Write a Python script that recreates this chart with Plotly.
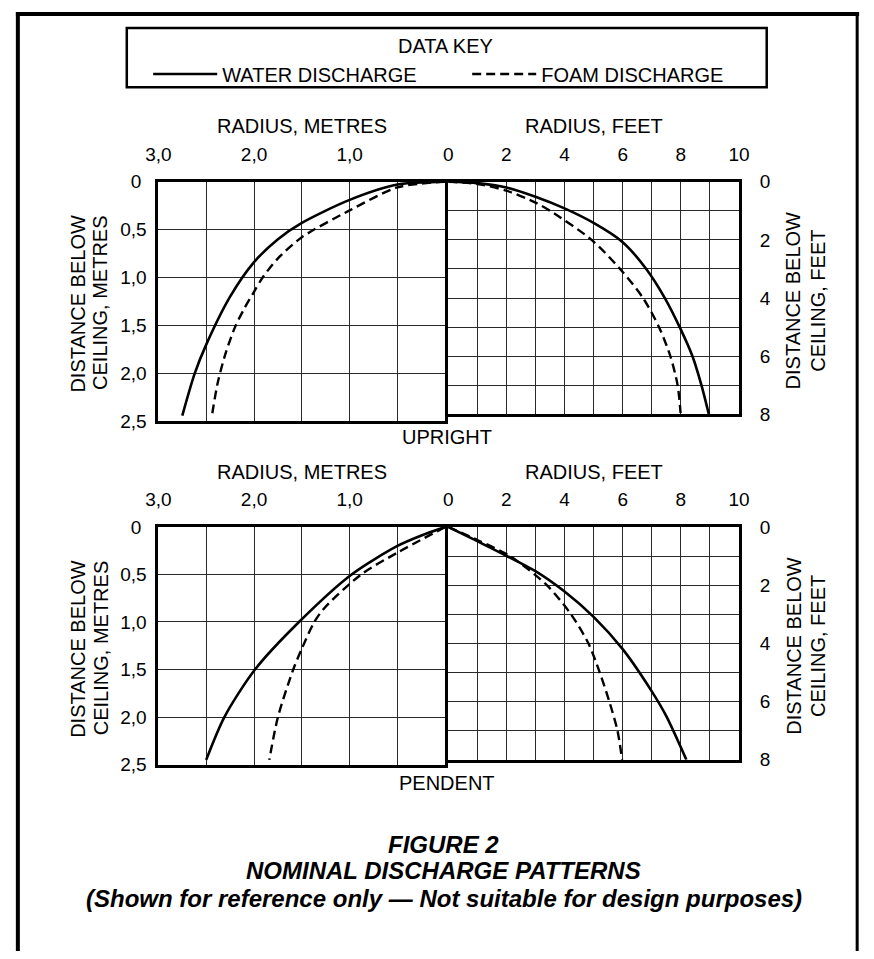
import plotly.graph_objects as go

W, H = 874, 959


def px(x):
    return x / W


def py(y):
    return 1 - y / H


FONT = "Liberation Sans, Arial, Helvetica, sans-serif"

# ---------------- data ----------------
# UPRIGHT, metric panel: radius (m) vs distance below ceiling (m)
up_m_water_r = [0, 0.50, 1.00, 1.50, 1.75, 2.00, 2.25, 2.50, 2.62, 2.75]
up_m_water_d = [0, 0.03, 0.19, 0.43, 0.60, 0.84, 1.20, 1.70, 2.00, 2.44]
up_m_foam_r = [0, 0.50, 1.00, 1.50, 1.75, 1.91, 2.00, 2.10, 2.20, 2.30, 2.38, 2.44]
up_m_foam_d = [0, 0.06, 0.30, 0.58, 0.80, 1.00, 1.15, 1.32, 1.52, 1.80, 2.10, 2.44]

# UPRIGHT, imperial panel: radius (ft) vs distance below ceiling (ft)
up_f_water_r = [0, 1.0, 2.0, 3.0, 4.0, 5.0, 6.0, 6.81, 7.45, 7.96, 8.40, 8.71, 8.96]
up_f_water_d = [0, 0.05, 0.20, 0.52, 0.92, 1.42, 2.08, 3.00, 4.00, 5.00, 6.00, 7.00, 7.98]
up_f_foam_r = [0, 1.0, 2.0, 3.0, 3.50, 4.93, 5.91, 6.70, 7.25, 7.64, 7.89, 7.99]
up_f_foam_d = [0, 0.08, 0.31, 0.72, 1.00, 2.00, 3.00, 4.00, 5.00, 6.00, 7.00, 7.95]

# PENDENT, metric panel
pe_m_water_r = [0, 0.25, 0.50, 0.98, 1.53, 1.99, 2.31, 2.50]
pe_m_water_d = [0, 0.09, 0.20, 0.50, 1.00, 1.50, 2.00, 2.45]
pe_m_foam_r = [0, 0.50, 0.88, 1.27, 1.37, 1.50, 1.59, 1.75, 1.84]
pe_m_foam_d = [0, 0.27, 0.50, 0.86, 1.00, 1.28, 1.50, 2.00, 2.45]

# PENDENT, imperial panel
pe_f_water_r = [0, 1.0, 2.0, 3.0, 4.0, 5.0, 6.0, 7.0, 7.5, 8.19]
pe_f_water_d = [0, 0.49, 0.99, 1.52, 2.22, 3.09, 4.20, 5.65, 6.50, 8.00]
pe_f_foam_r = [0, 1.0, 2.12, 3.39, 4.22, 4.82, 5.21, 5.54, 5.82, 5.98]
pe_f_foam_d = [0, 0.45, 1.00, 2.00, 3.00, 4.00, 5.00, 6.00, 7.00, 8.00]

# axis ticks
m_x_vals = [3.0, 2.5, 2.0, 1.5, 1.0, 0.5, 0.0]
m_x_text = ["3,0", "", "2,0", "", "1,0", "", ""]
m_y_vals = [0, 0.5, 1.0, 1.5, 2.0, 2.5]
m_y_text = ["0\u00a0", "0,5", "1,0", "1,5", "2,0", "2,5"]
f_x_vals = list(range(0, 11))
f_x_text = ["0", "", "2", "", "4", "", "6", "", "8", "", "10"]
f_y_vals = list(range(0, 9))
f_y_text = ["0", "", "2", "", "4", "", "6", "", "8"]

SERIES_NAMES = ["WATER DISCHARGE", "FOAM DISCHARGE"]

fig = go.Figure()

panels = [
    ("x", "y", up_m_water_r, up_m_water_d, up_m_foam_r, up_m_foam_d, True),
    ("x2", "y2", up_f_water_r, up_f_water_d, up_f_foam_r, up_f_foam_d, False),
    ("x3", "y3", pe_m_water_r, pe_m_water_d, pe_m_foam_r, pe_m_foam_d, False),
    ("x4", "y4", pe_f_water_r, pe_f_water_d, pe_f_foam_r, pe_f_foam_d, False),
]
for xa, ya, wr, wd, fr, fd, show in panels:
    fig.add_trace(go.Scatter(
        x=wr, y=wd, xaxis=xa, yaxis=ya, mode="lines", name=SERIES_NAMES[0],
        line=dict(color="black", width=2.6, shape="spline", smoothing=0.8),
        showlegend=show, hoverinfo="skip"))
    fig.add_trace(go.Scatter(
        x=fr, y=fd, xaxis=xa, yaxis=ya, mode="lines", name=SERIES_NAMES[1],
        line=dict(color="black", width=2.4, dash="9px,5px", shape="spline", smoothing=0.8),
        showlegend=show, hoverinfo="skip"))

GRID = "#2a2a2a"
common = dict(showline=True, linecolor="black", linewidth=3, mirror=True,
              showgrid=True, gridcolor=GRID, gridwidth=1, zeroline=False,
              ticks="", tickfont=dict(size=19, color="black", family=FONT),
              fixedrange=True)

# pixel geometry of the four frames (inner edges)
L0, L1 = 149.5, 444.5      # metric panels
R0, R1 = 447.5, 746.5      # imperial panels
UT, UBm, UBf = 175.5, 420.5, 413.5
PT, PBm, PBf = 528.5, 771.5, 766.5

fig.update_layout(
    xaxis=dict(domain=[px(L0), px(L1)], range=[3.0, 0], side="top", anchor="y",
               tickvals=m_x_vals, ticktext=m_x_text, ticklabelstandoff=10, **common),
    yaxis=dict(domain=[py(UBm), py(UT)], range=[2.5, 0], side="left", anchor="x",
               tickvals=m_y_vals, ticktext=m_y_text, ticklabelstandoff=5, **common),
    xaxis2=dict(domain=[px(R0), px(R1)], range=[0, 10], side="top", anchor="y2",
                tickvals=f_x_vals, ticktext=f_x_text, ticklabelstandoff=10, **common),
    yaxis2=dict(domain=[py(UBf), py(UT)], range=[8, 0], side="right", anchor="x2",
                tickvals=f_y_vals, ticktext=f_y_text, ticklabelstandoff=14, **common),
    xaxis3=dict(domain=[px(L0), px(L1)], range=[3.0, 0], side="top", anchor="y3",
                tickvals=m_x_vals, ticktext=m_x_text, ticklabelstandoff=10, **common),
    yaxis3=dict(domain=[py(PBm), py(PT)], range=[2.5, 0], side="left", anchor="x3",
                tickvals=m_y_vals, ticktext=m_y_text, ticklabelstandoff=5, **common),
    xaxis4=dict(domain=[px(R0), px(R1)], range=[0, 10], side="top", anchor="y4",
                tickvals=f_x_vals, ticktext=f_x_text, ticklabelstandoff=10, **common),
    yaxis4=dict(domain=[py(PBf), py(PT)], range=[8, 0], side="right", anchor="x4",
                tickvals=f_y_vals, ticktext=f_y_text, ticklabelstandoff=14, **common),
)

annotations = []


def label(text, x, y, size=20, angle=0, bold_italic=False):
    t = f"<b><i>{text}</i></b>" if bold_italic else text
    annotations.append(dict(
        text=t, x=px(x), y=py(y), xref="paper", yref="paper",
        xanchor="center", yanchor="middle", showarrow=False, textangle=angle,
        font=dict(size=size, color="black", family=FONT)))


# data key heading
label("DATA KEY", 445, 36.5)

# axis titles
for yoff, sub in ((0, "UPRIGHT"), (353, "PENDENT")):
    label("RADIUS, METRES", 297, 119 + yoff)
    label("RADIUS, FEET", 597, 119 + yoff)
    label("DISTANCE BELOW", 67, 300 + yoff, angle=-90)
    label("CEILING, METRES", 90, 300 + yoff, angle=-90)
    label("DISTANCE BELOW", 803, 297 + yoff, angle=-90)
    label("CEILING, FEET", 828, 297 + yoff, angle=-90)
    label(sub, 446, 437 + yoff)

# caption
label("FIGURE 2", 443, 853, size=24, bold_italic=True)
label("NOMINAL DISCHARGE PATTERNS", 443, 880, size=24, bold_italic=True)
label("(Shown for reference only \u2014 Not suitable for design purposes)", 443, 908,
      size=24, bold_italic=True)

shapes = [
    # outer frame
    dict(type="line", xref="paper", yref="paper", x0=px(3), x1=px(870), y0=py(4), y1=py(4),
         line=dict(color="black", width=4)),
    dict(type="line", xref="paper", yref="paper", x0=px(5), x1=px(5), y0=py(2), y1=py(962),
         line=dict(color="black", width=4)),
    dict(type="line", xref="paper", yref="paper", x0=px(868), x1=px(868), y0=py(2), y1=py(962),
         line=dict(color="black", width=3)),
    # data key box
    dict(type="rect", xref="paper", yref="paper", x0=px(117), x1=px(775), y0=py(18.5), y1=py(79),
         line=dict(color="black", width=2.5), fillcolor="rgba(0,0,0,0)", layer="below"),
]

fig.update_layout(
    width=W, height=H, autosize=False,
    margin=dict(l=0, r=0, t=0, b=0, pad=0),
    paper_bgcolor="white", plot_bgcolor="white",
    font=dict(family=FONT, size=20, color="black"),
    annotations=annotations, shapes=shapes,
    legend=dict(orientation="h", x=px(139), xanchor="left", y=py(45.5), yanchor="top",
                borderwidth=0, bgcolor="rgba(0,0,0,0)",
                font=dict(size=20, family=FONT, color="black"),
                itemwidth=64, entrywidth=240, entrywidthmode="pixels",
                itemclick=False, itemdoubleclick=False),
    hovermode=False,
)

fig.write_html("out.html",
               config={"displayModeBar": False, "staticPlot": True},
               post_script="document.body.style.margin='0';document.body.style.overflow='hidden';")
